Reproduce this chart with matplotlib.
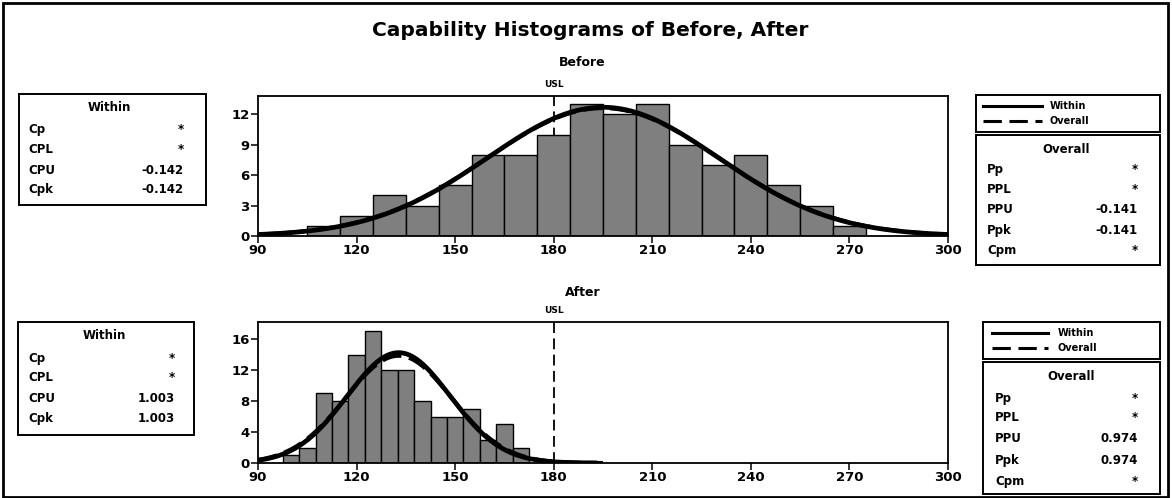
import numpy as np
import matplotlib.pyplot as plt
from matplotlib.patches import Rectangle

plt.rcParams['font.family'] = ['DejaVu Sans']
plt.rcParams['font.weight'] = 'bold'

# ---- data ----
usl = 180
x_ticks = [90, 120, 150, 180, 210, 240, 270, 300]

before_start, before_width = 105, 10
before_counts = [1, 2, 4, 3, 5, 8, 8, 10, 13, 12, 13, 9, 7, 8, 5, 3, 1]
before_mean = 195.0
before_yticks = [0, 3, 6, 9, 12]

after_start, after_width = 97.5, 5
after_counts = [1, 2, 9, 8, 14, 17, 12, 12, 8, 6, 6, 7, 3, 5, 2]
after_mean = 132.8
after_yticks = [0, 4, 8, 12, 16]

within_labels = ["Cp", "CPL", "CPU", "Cpk"]
overall_labels = ["Pp", "PPL", "PPU", "Ppk", "Cpm"]
before_within = ["*", "*", "-0.142", "-0.142"]
before_overall = ["*", "*", "-0.141", "-0.141", "*"]
after_within = ["*", "*", "1.003", "1.003"]
after_overall = ["*", "*", "0.974", "0.974", "*"]

W, H = 1172, 498
fig = plt.figure(figsize=(W / 100, H / 100), dpi=100)

# overlay in pixel coords for boxes / titles
ov = fig.add_axes([0, 0, 1, 1])
ov.set_xlim(0, W)
ov.set_ylim(H, 0)
ov.axis('off')

ov.add_patch(Rectangle((3, 3), 1165, 494, fill=False, lw=2, color='black'))
ov.text(590, 30, "Capability Histograms of Before, After", ha='center', va='center', fontsize=14.5)


def pdf_curve(mean, sigma, n, width, lo, hi):
    xs = np.linspace(max(lo, mean - 3.85 * sigma), min(hi, mean + 3.85 * sigma), 400)
    return xs, n * width * np.exp(-0.5 * ((xs - mean) / sigma) ** 2) / (sigma * np.sqrt(2 * np.pi))


def panel(rect, start, width, counts, mean, cpu, ppu, yticks, ytop, name, name_y):
    ax = fig.add_axes(rect)
    lefts = start + width * np.arange(len(counts))
    ax.axvline(usl, color='black', lw=1.3, ls=(0, (6, 3)), zorder=1)
    ax.bar(lefts, counts, width=width, align='edge', color='#7f7f7f',
           edgecolor='black', linewidth=1.0, zorder=2)
    n = sum(counts)
    s_w = (usl - mean) / (3 * cpu)
    s_o = (usl - mean) / (3 * ppu)
    xs, ys = pdf_curve(mean, s_o, n, width, 90, 300)
    ax.plot(xs, ys, color='black', lw=2.8, ls=(0, (5, 2)), zorder=3)
    xs, ys = pdf_curve(mean, s_w, n, width, 90, 300)
    ax.plot(xs, ys, color='black', lw=3.4, zorder=3, solid_capstyle='butt')
    ax.set_xlim(90, 300)
    ax.set_ylim(0, ytop)
    ax.set_xticks(x_ticks)
    ax.set_yticks(yticks)
    ax.tick_params(direction='out', length=5, width=1.1, labelsize=9.5, pad=1)
    for sp in ax.spines.values():
        sp.set_linewidth(1.3)
    ax.text(usl, 1.05, "USL", transform=ax.get_xaxis_transform(), ha='center',
            va='bottom', fontsize=6.5)
    ax.text(0.47, name_y, name, transform=ax.transAxes, ha='center', va='center', fontsize=9)
    return ax


panel([258 / W, 1 - 236 / H, 690 / W, 140 / H], before_start, before_width, before_counts,
      before_mean, float(before_within[2]), float(before_overall[2]), before_yticks, 13.8,
      "Before", 1.24)
panel([258 / W, 1 - 463 / H, 690 / W, 141 / H], after_start, after_width, after_counts,
      after_mean, float(after_within[2]), float(after_overall[2]), after_yticks, 18.2,
      "After", 1.21)


def within_box(x0, y0, x1, y1, hx, rows_y, lab_x, val_x, values):
    ov.add_patch(Rectangle((x0, y0), x1 - x0, y1 - y0, fill=False, lw=1.4, color='black'))
    ov.text(hx, y0 + 13, "Within", ha='center', va='center', fontsize=8.5)
    for yy, lab, val in zip(rows_y, within_labels, values):
        ov.text(lab_x, yy, lab, ha='left', va='center', fontsize=8.5)
        ov.text(val_x, yy, val, ha='right', va='center', fontsize=8.5)


def right_boxes(x0, x1, ly0, ly1, oy1, l_line, l_text, hx, rows_y, lab_x, val_x, values):
    ov.add_patch(Rectangle((x0, ly0), x1 - x0, ly1 - ly0, fill=False, lw=1.4, color='black'))
    ya = ly0 + 11
    yb = ly1 - 11
    ov.plot(l_line, [ya, ya], color='black', lw=2.2)
    ov.plot(l_line, [yb, yb], color='black', lw=2.2, ls=(0, (6, 2.5)))
    ov.text(l_text, ya, "Within", ha='left', va='center', fontsize=7)
    ov.text(l_text, yb, "Overall", ha='left', va='center', fontsize=7)
    oy0 = ly1 + 3
    ov.add_patch(Rectangle((x0, oy0), x1 - x0, oy1 - oy0, fill=False, lw=1.4, color='black'))
    ov.text(hx, oy0 + 14, "Overall", ha='center', va='center', fontsize=8.5)
    for yy, lab, val in zip(rows_y, overall_labels, values):
        ov.text(lab_x, yy, lab, ha='left', va='center', fontsize=8.5)
        ov.text(val_x, yy, val, ha='right', va='center', fontsize=8.5)


within_box(19, 94, 206, 205, 109, [129, 149, 170, 189], 28, 184, before_within)
within_box(18, 322, 194, 435, 104, [358, 377, 398, 418], 28, 175, after_within)

right_boxes(976, 1160, 95, 132, 265, [983, 1042], 1050, 1066,
            [169, 189, 209, 230, 250], 987, 1138, before_overall)
right_boxes(983, 1160, 322, 359, 494, [992, 1048], 1058, 1071,
            [398, 417, 438, 460, 481], 995, 1138, after_overall)

fig.savefig("out.png", dpi=100)
